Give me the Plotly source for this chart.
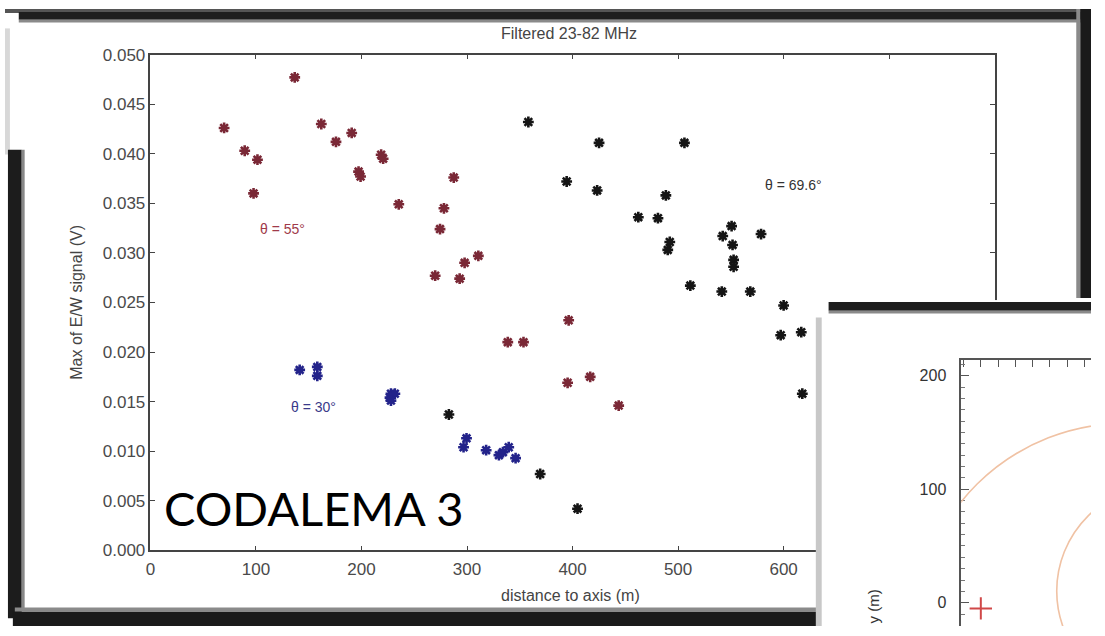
import plotly.graph_objects as go

W, H = 1105, 636

# ---------------- data ----------------
# theta = 55 deg (red)
red_x = [136.7, 69.8, 89.3, 101.4, 97.7, 161.9, 175.8, 190.7, 197.2, 199.1,
         218.6, 220.5, 235.3, 287.4, 278.1, 274.4, 310.7, 297.7, 269.8, 293.0,
         338.6, 353.5, 396.3, 395.3, 416.7, 443.7]
red_y = [0.0477, 0.0426, 0.0403, 0.0394, 0.0360, 0.0430, 0.0412, 0.0421, 0.0382, 0.0377,
         0.0399, 0.0395, 0.0349, 0.0376, 0.0345, 0.0324, 0.0297, 0.0290, 0.0277, 0.0274,
         0.0210, 0.0210, 0.0232, 0.0169, 0.0175, 0.0146]

# theta = 69.6 deg (black)
black_x = [358.1, 425.1, 506.0, 394.4, 423.3, 488.4, 462.3, 480.9, 492.1, 490.2,
           550.7, 542.3, 551.6, 552.6, 552.6, 578.6, 511.6, 541.4, 568.4, 600.0,
           597.2, 616.7, 617.7, 282.8, 369.3, 404.7]
black_y = [0.0432, 0.0411, 0.0411, 0.0372, 0.0363, 0.0358, 0.0336, 0.0335, 0.0311, 0.0303,
           0.0327, 0.0317, 0.0308, 0.0293, 0.0286, 0.0319, 0.0267, 0.0261, 0.0261, 0.0247,
           0.0217, 0.0220, 0.0158, 0.0137, 0.0077, 0.0042]

# theta = 30 deg (blue)
blue_x = [141.4, 158.1, 158.1, 227.9, 227.0, 231.6, 227.9, 299.5, 296.7, 318.1,
          330.2, 334.0, 339.5, 346.0]
blue_y = [0.0182, 0.0185, 0.0176, 0.0158, 0.0154, 0.0158, 0.0151, 0.0113, 0.0104, 0.0101,
          0.0096, 0.0099, 0.0104, 0.0093]

x_ticks = [0, 100, 200, 300, 400, 500, 600, 700, 800]
y_ticks = [0, 0.005, 0.01, 0.015, 0.02, 0.025, 0.03, 0.035, 0.04, 0.045, 0.05]
y_ticktext = ["0.000", "0.005", "0.010", "0.015", "0.020", "0.025",
              "0.030", "0.035", "0.040", "0.045", "0.050"]

# inset (ground map) data
core_x = [0]
core_y = [-5]
ring_cx = [125.7, 160.0]
ring_cy = [-23.9, 10.3]
ring_r = [182.0, 94.0]
inset_y_ticks = [0, 100, 200]


def px(x):
    return x / W


def py(y):
    return 1 - y / H


RED = "#7a2836"
BLUE = "#23238a"
BLACK = "#151515"
TICKC = "#4a4a4a"
FONT = "Liberation Sans"

fig = go.Figure()


def star_trace(xs, ys, color):
    return go.Scatter(
        x=xs, y=ys, mode="markers", xaxis="x", yaxis="y", showlegend=False,
        marker=dict(symbol="asterisk-open", size=9, color=color,
                    line=dict(color=color, width=2.6)),
    )


fig.add_trace(star_trace(red_x, red_y, RED))
fig.add_trace(star_trace(black_x, black_y, BLACK))
fig.add_trace(star_trace(blue_x, blue_y, BLUE))

# cover subplot (the overlapping second slide) - empty
fig.add_trace(go.Scatter(x=[], y=[], xaxis="x2", yaxis="y2", showlegend=False))

# inset: core marker
fig.add_trace(go.Scatter(
    x=core_x, y=core_y, mode="markers", xaxis="x3", yaxis="y3", showlegend=False,
    marker=dict(symbol="cross-thin-open", size=16, color="#d04848",
                line=dict(color="#d04848", width=2)),
))

axis_common = dict(showgrid=False, zeroline=False, showline=True, linecolor="#444",
                   linewidth=1.5, ticks="inside", ticklen=5, tickcolor="#444",
                   mirror="ticks", tickfont=dict(family=FONT, size=17, color=TICKC))

fig.update_layout(
    width=W, height=H, autosize=False,
    margin=dict(l=0, r=0, t=0, b=0),
    paper_bgcolor="white", plot_bgcolor="white",
    xaxis=dict(domain=[px(148), px(1007)], range=[0, 800], tickmode="array",
               tickvals=x_ticks, anchor="y", ticklabelstandoff=3, **axis_common),
    yaxis=dict(domain=[py(558), py(47)], range=[0, 0.05], tickmode="array",
               tickvals=y_ticks, ticktext=y_ticktext, anchor="x", **axis_common),
    xaxis2=dict(domain=[px(828), 1], range=[0, 1], anchor="y2", visible=False),
    yaxis2=dict(domain=[0, py(300)], range=[0, 1], anchor="x2", visible=False),
    xaxis3=dict(domain=[px(973), 1], range=[-17, 95.8], anchor="y3", side="top",
                showgrid=False, zeroline=False, showline=True, linecolor="#555",
                linewidth=1.5, ticks="inside", ticklen=7, tickcolor="#555",
                dtick=15, showticklabels=False),
    yaxis3=dict(domain=[0, py(362)], range=[-20.5, 213.7], anchor="x3",
                showgrid=False, zeroline=False, showline=True, linecolor="#555",
                linewidth=1.5, ticks="inside", ticklen=8, tickcolor="#555",
                tickmode="array", tickvals=inset_y_ticks, ticklabelstandoff=10,
                tickfont=dict(family=FONT, size=16, color="#333"),
                minor=dict(ticks="inside", ticklen=4, tickcolor="#777",
                           tickmode="linear", tick0=0, dtick=10)),
)


def note(text, x, y, size, color, family=FONT, angle=0):
    return dict(text=text, x=px(x), y=py(y), xref="paper", yref="paper",
                xanchor="center", yanchor="middle", showarrow=False,
                textangle=angle, font=dict(family=family, size=size, color=color))


annotations = [
    note("Filtered 23-82 MHz", 574, 25, 16, "#444"),
    note("distance to axis (m)", 575, 605, 16, "#444"),
    note("Max of E/W signal (V)", 73, 302, 16, "#444", angle=-90),
    note("θ = 55°", 282, 227, 14, "#a03a4a"),
    note("θ = 30°", 314, 410, 14, "#3a3a8a"),
    note("θ = 69.6°", 802, 181, 14, "#333"),
    note("CODALEMA 3", 314, 514, 47, "#000", family="Lato"),
    note("y (m)", 884, 616, 15, "#333", angle=-90),
]
fig.update_layout(annotations=annotations)


def rect(x0, y0, x1, y1, color):
    return dict(type="rect", xref="paper", yref="paper", layer="above",
                x0=px(x0), x1=px(x1), y0=py(y1), y1=py(y0),
                fillcolor=color, line=dict(width=0))


shapes = [
    # photo frame of the main slide
    rect(0, 0, 1105, 4, "#555555"),
    rect(14, 3, 1105, 11, "#1e1e1e"),
    rect(14, 11, 1105, 14, "#8a8a8a"),
    rect(0, 20, 5, 150, "#d8d8d8"),
    rect(3, 145, 17, 628, "#1c1c1c"),
    rect(17, 145, 20, 620, "#888888"),
    rect(8, 621, 828, 636, "#1a1a1a"),
    rect(10, 617, 828, 621, "#8a8a8a"),
    rect(1094, 0, 1105, 298, "#1a1a1a"),
    rect(1090, 0, 1094, 298, "#8a8a8a"),
    # second slide (inset) edges
    rect(838, 302, 1105, 311, "#1e1e1e"),
    rect(838, 311, 1105, 314, "#8a8a8a"),
    rect(825, 318, 831, 636, "#c8c8c8"),
]
for cx, cy, r in zip(ring_cx, ring_cy, ring_r):
    shapes.append(dict(type="circle", xref="x3", yref="y3", layer="above",
                       x0=cx - r, x1=cx + r, y0=cy - r, y1=cy + r,
                       line=dict(color="#f0c2a4", width=1.6)))
fig.update_layout(shapes=shapes)

fig.write_html(
    "out.html",
    config={"displayModeBar": False},
    post_script="document.documentElement.style.margin='0px';"
                "document.documentElement.style.overflow='hidden';"
                "document.body.style.margin='0px';document.body.style.padding='0px';"
                "document.body.style.overflow='hidden';"
                "var gd=document.getElementById('{plot_id}');"
                "gd.style.position='fixed';gd.style.left='0px';gd.style.top='0px';",
)
